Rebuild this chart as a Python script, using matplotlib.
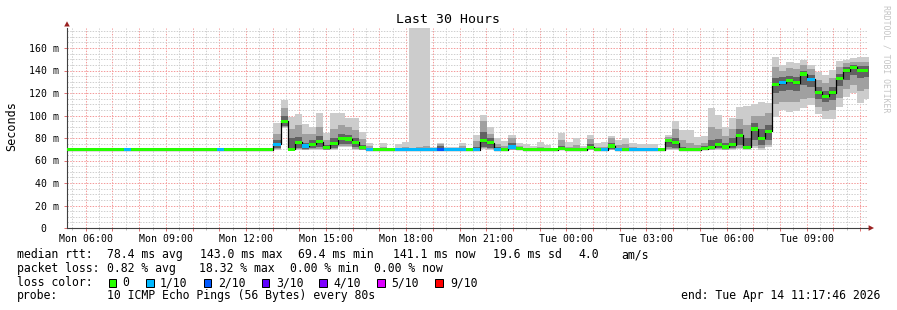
import numpy as np
import matplotlib
matplotlib.use("Agg")
import matplotlib.pyplot as plt
from matplotlib.patches import Rectangle, Polygon

W, H = 897, 310
plt.rcParams['font.family'] = ['DejaVu Sans Mono']

# ---------------- data ----------------
start_h = 5 + 17 / 60 + 46 / 3600      # Mon 05:17:46 (hours since Mon 00:00)
span_h = 30
bin_minutes = 16

median = [
    69.5, 69.5, 69.5, 69.5, 69.5, 69.5, 69.5, 69.5, 69.5, 69.5,
    69.5, 69.5, 69.5, 69.5, 69.5, 69.5, 69.5, 69.5, 69.5, 69.5,
    69.5, 69.5, 69.5, 69.5, 69.5, 69.5, 69.5, 69.5, 69.5, 74.5,
    95, 70, 76.4, 72.9, 74.4, 76.7, 71.4, 74.7, 79.7, 79.1,
    76.4, 71.4, 69.5, 69.5, 69.5, 69.5, 69.5, 69.5, 69.5, 69.5,
    69.5, 69.5, 69.5, 69.5, 69.5, 69.5, 69.5, 69.5, 77.5, 75.8,
    69.5, 69.5, 72, 70.5, 69.5, 69.5, 69.5, 69.5, 69.5, 70.4,
    69.5, 69.5, 69.5, 71.7, 69.5, 69.5, 72.9, 69.5, 69.5, 69.5,
    69.5, 69.5, 69.5, 69.5, 77.6, 75.8, 69.5, 69.5, 69.5, 70.5,
    71.7, 73.8, 72, 73.8, 82.4, 71.7, 88, 79.7, 86.2, 127.7,
    129.2, 130.7, 129.2, 136.9, 132.2, 120.6, 117.3, 120.3, 133.3, 139.6,
    142.8, 140.4, 140.4,
]

loss = [
    0, 0, 0, 0, 0, 0, 0, 0, 1, 0,
    0, 0, 0, 0, 0, 0, 0, 0, 0, 0,
    0, 1, 0, 0, 0, 0, 0, 0, 0, 1,
    0, 0, 0, 1, 0, 0, 0, 0, 0, 0,
    0, 0, 1, 0, 0, 0, 1, 1, 1, 1,
    1, 1, 2, 1, 1, 1, 0, 1, 0, 0,
    1, 0, 1, 0, 0, 0, 0, 0, 0, 0,
    0, 0, 0, 0, 0, 1, 0, 1, 0, 1,
    1, 1, 1, 0, 0, 0, 0, 0, 0, 0,
    0, 0, 0, 0, 0, 0, 0, 0, 0, 0,
    1, 0, 0, 0, 1, 0, 0, 0, 0, 0,
    0, 0, 0,
]

ping_min = [
    69.5, 69.5, 69.5, 69.5, 69.5, 69.5, 69.5, 69.5, 69.5, 69.5,
    69.5, 69.5, 69.5, 69.5, 69.5, 69.5, 69.5, 69.5, 69.5, 69.5,
    69.5, 69.5, 69.5, 69.5, 69.5, 69.5, 69.5, 69.5, 69.5, 69.5,
    89, 69.5, 69.5, 69.5, 69.5, 69.5, 69.5, 69.5, 72, 72,
    69.5, 69.5, 69.5, 69.5, 69.5, 69.5, 69.5, 69.5, 69.5, 69.5,
    69.5, 69.5, 69.5, 69.5, 69.5, 69.5, 69.5, 69.5, 70, 69.5,
    69.5, 69.5, 69.5, 69.5, 69.5, 69.5, 69.5, 69.5, 69.5, 69.5,
    69.5, 69.5, 69.5, 69.5, 69.5, 69.5, 69.5, 69.5, 69.5, 69.5,
    69.5, 69.5, 69.5, 69.5, 69.5, 69.5, 69.5, 69.5, 69.5, 69.5,
    69.5, 69.5, 69.5, 69.5, 70, 69.5, 71, 69.5, 72, 99,
    104.9, 103.4, 104, 106.4, 109.3, 101.3, 96.6, 96.6, 107.9, 116.7,
    119.7, 110.8, 115,
]

band_lo = [
    69.5, 69.5, 69.5, 69.5, 69.5, 69.5, 69.5, 69.5, 69.5, 69.5,
    69.5, 69.5, 69.5, 69.5, 69.5, 69.5, 69.5, 69.5, 69.5, 69.5,
    69.5, 69.5, 69.5, 69.5, 69.5, 69.5, 69.5, 69.5, 69.5, 70,
    90, 69.5, 70, 69.5, 70, 70, 69.5, 70, 73, 73,
    70, 69.5, 69.5, 69.5, 69.5, 69.5, 69.5, 69.5, 69.5, 69.5,
    69.5, 69.5, 69.5, 69.5, 69.5, 69.5, 69.5, 69.5, 71, 70,
    69.5, 69.5, 69.5, 69.5, 69.5, 69.5, 69.5, 69.5, 69.5, 69.5,
    69.5, 69.5, 69.5, 69.5, 69.5, 69.5, 69.5, 69.5, 69.5, 69.5,
    69.5, 69.5, 69.5, 69.5, 70, 70, 69.5, 69.5, 69.5, 69.5,
    69.5, 70, 69.5, 70, 71, 70, 73, 71, 74, 110,
    112, 112, 112, 115, 116, 108, 104, 105, 116, 124,
    127, 122, 124,
]

core_lo = [
    69.5, 69.5, 69.5, 69.5, 69.5, 69.5, 69.5, 69.5, 69.5, 69.5,
    69.5, 69.5, 69.5, 69.5, 69.5, 69.5, 69.5, 69.5, 69.5, 69.5,
    69.5, 69.5, 69.5, 69.5, 69.5, 69.5, 69.5, 69.5, 69.5, 71,
    91, 70, 71, 70, 71, 72, 70, 71, 75, 75,
    72, 70, 69.5, 69.5, 69.5, 69.5, 69.5, 69.5, 69.5, 69.5,
    69.5, 69.5, 69.5, 69.5, 69.5, 69.5, 69.5, 69.5, 72, 71,
    69.5, 69.5, 70, 69.5, 69.5, 69.5, 69.5, 69.5, 69.5, 69.5,
    69.5, 69.5, 69.5, 70, 69.5, 69.5, 70, 69.5, 69.5, 69.5,
    69.5, 69.5, 69.5, 69.5, 72, 71, 69.5, 69.5, 69.5, 70,
    70, 71, 70, 71, 74, 71, 78, 74, 78, 120,
    122, 123, 122, 127, 125, 115, 112, 114, 126, 132,
    136, 133, 134,
]

core_hi = [
    69.5, 69.5, 69.5, 69.5, 69.5, 69.5, 69.5, 69.5, 69.5, 69.5,
    69.5, 69.5, 69.5, 69.5, 69.5, 69.5, 69.5, 69.5, 69.5, 69.5,
    69.5, 69.5, 69.5, 69.5, 69.5, 69.5, 69.5, 69.5, 69.5, 78,
    100, 80, 81, 76, 78, 82, 74, 80, 84, 83,
    80, 74, 71, 69.5, 70, 69.5, 70, 70, 70, 70.5,
    71, 70, 73, 70, 70, 71, 69.5, 72, 85, 80,
    72, 70.5, 76, 72, 70, 70, 70, 70, 69.5, 73,
    70, 71, 70, 75, 70, 70, 76, 71, 71, 70,
    70, 70, 70, 69.5, 79, 80, 72, 71, 71, 73,
    78, 79, 76, 80, 88, 80, 93, 88, 92, 133,
    134, 135, 134, 140, 136, 125, 122, 125, 137, 143,
    145, 144, 144,
]

band_hi = [
    69.5, 69.5, 69.5, 69.5, 69.5, 69.5, 69.5, 69.5, 69.5, 69.5,
    69.5, 69.5, 69.5, 69.5, 69.5, 69.5, 69.5, 69.5, 69.5, 69.5,
    69.5, 69.5, 69.5, 69.5, 69.5, 69.5, 69.5, 69.5, 69.5, 84,
    107, 88, 92, 84, 84, 90, 78, 88, 92, 90,
    87, 79, 73, 69.5, 72, 70, 71, 72, 71, 72,
    73, 70.5, 75, 70.5, 71, 73, 70, 77, 95, 84,
    75, 73, 80, 73, 71, 71, 72, 71, 70, 78,
    72, 74, 71, 79, 72, 72, 80, 74, 75, 72,
    71, 71, 71, 70, 81, 88, 78, 76, 74, 76,
    90, 88, 82, 88, 97, 92, 100, 100, 102, 143,
    140, 142, 141, 145, 141, 132, 129, 133, 143, 147,
    148, 148, 148,
]

ping_max = [
    69.5, 69.5, 69.5, 69.5, 69.5, 69.5, 69.5, 69.5, 69.5, 69.5,
    69.5, 69.5, 69.5, 69.5, 69.5, 69.5, 69.5, 69.5, 69.5, 69.5,
    69.5, 69.5, 69.5, 69.5, 69.5, 69.5, 69.5, 69.5, 69.5, 93.5,
    114, 99, 101, 92.4, 90, 102.5, 84.7, 102.5, 102, 97.6,
    97.6, 85.6, 75.5, 69.5, 75.8, 70.5, 74.7, 76.7, 185, 185,
    185, 72.3, 75.8, 72.3, 72.3, 75.8, 71, 82.7, 100.4, 89.5,
    79.7, 77.6, 83, 75.3, 74.4, 72.9, 76.1, 73.9, 71, 84.1,
    76.7, 80.3, 73.2, 82.7, 75.3, 76.7, 81.8, 78.2, 79.7, 75.3,
    74.7, 74.7, 74.7, 71, 83, 95.4, 87.1, 87.1, 81, 81.8,
    106.4, 100.4, 90, 97.5, 107.9, 108.4, 110.2, 112.3, 110.8, 151.7,
    145, 147.8, 147, 149.3, 145, 139, 136, 140.4, 148.4, 149.3,
    150.8, 151.7, 152,
]

tick_hours = [6, 9, 12, 15, 18, 21, 24, 27, 30, 33]
tick_labels = ["Mon 06:00", "Mon 09:00", "Mon 12:00", "Mon 15:00", "Mon 18:00",
               "Mon 21:00", "Tue 00:00", "Tue 03:00", "Tue 06:00", "Tue 09:00"]
y_ticks = [0, 20, 40, 60, 80, 100, 120, 140, 160]
y_labels = ["0  ", "20 m", "40 m", "60 m", "80 m", "100 m", "120 m", "140 m", "160 m"]

loss_levels = [0, 1, 2, 3, 4, 5, 9]
loss_names = ["0", "1/10", "2/10", "3/10", "4/10", "5/10", "9/10"]
loss_colors = ["#26ff00", "#00b8ff", "#0059ff", "#5e00ff", "#7e00ff", "#dd00ff", "#ff0000"]

title = "Last 30 Hours"
rtt_stats = ["median rtt:", "78.4 ms avg", "143.0 ms max", "69.4 ms min",
             "141.1 ms now", "19.6 ms sd", "4.0", "am/s"]
loss_stats = ["packet loss:", "0.82 % avg", "18.32 % max", "0.00 % min", "0.00 % now"]
probe_text = ["probe:", "10 ICMP Echo Pings (56 Bytes) every 80s"]
end_text = "end: Tue Apr 14 11:17:46 2026"

# ---------------- figure ----------------
fig = plt.figure(figsize=(W / 100, H / 100), dpi=100)
fig.patch.set_facecolor("white")


def fx(x):
    return x / W


def fy(y):
    return 1 - y / H


ymax = 178.0
ax = fig.add_axes([fx(67), fy(228), 801 / W, (ymax * 1.125) / H])
ax.set_xlim(start_h, start_h + span_h)
ax.set_ylim(0, ymax)
ax.set_facecolor("white")

n = len(median)
edges = start_h + np.arange(n + 1) * bin_minutes / 60.0


def ext(a):
    a = np.asarray(a, dtype=float)
    return np.append(a, a[-1])


ax.fill_between(edges, ext(ping_min), ext(ping_max), step='post', color='#cccccc', lw=0, zorder=2)
ax.fill_between(edges, ext(band_lo), ext(band_hi), step='post', color='#a0a0a0', lw=0, zorder=3)
ax.fill_between(edges, ext(core_lo), ext(core_hi), step='post', color='#626262', lw=0, zorder=4)
ax.step(edges, ext(median), where='post', color='black', lw=0.9, zorder=5)

cmap = dict(zip(loss_levels, loss_colors))
bar_colors = [cmap[l] for l in loss]
ax.bar(edges[:-1], 2.7, bottom=np.asarray(median) - 1.35, width=bin_minutes / 60.0,
       align='edge', color=bar_colors, lw=0, zorder=6)

# grid
major_x = np.arange(6, 36)
minor_x = np.arange(5.5, 35.5, 1.0)
ax.set_xticks(major_x)
ax.set_xticklabels([tick_labels[tick_hours.index(h)] if h in tick_hours else "" for h in major_x])
ax.set_xticks(minor_x, minor=True)
ax.set_yticks(y_ticks)
ax.set_yticklabels(y_labels)
ax.set_yticks(np.arange(5, 178, 5), minor=True)
ax.set_axisbelow(True)
ax.grid(True, which='minor', color='#cfcfcf', linestyle=(0, (1.4, 1.4)), linewidth=0.72)
ax.grid(True, which='major', color='#f49a9a', linestyle=(0, (1.4, 1.4)), linewidth=0.72)

ax.tick_params(axis='x', which='major', length=2, width=0.7, color='#e07070', pad=2.5,
               labelsize=7.1, labelcolor='black')
ax.tick_params(axis='x', which='minor', length=1.5, width=0.7, color='#bbbbbb')
ax.tick_params(axis='y', which='major', length=2, width=0.7, color='#e07070', pad=3.6,
               labelsize=7.1, labelcolor='black')
ax.tick_params(axis='y', which='minor', length=0)

for s in ['top', 'right']:
    ax.spines[s].set_visible(False)
for s in ['left', 'bottom']:
    ax.spines[s].set_color('#404040')
    ax.spines[s].set_linewidth(0.8)

# arrows
arrow_col = '#9b2222'
fig.add_artist(Polygon([(fx(67), fy(21.3)), (fx(64.2), fy(26.5)), (fx(69.8), fy(26.5))],
                       closed=True, transform=fig.transFigure, color=arrow_col, lw=0))
fig.add_artist(Polygon([(fx(874), fy(228)), (fx(868.6), fy(225.2)), (fx(868.6), fy(230.8))],
                       closed=True, transform=fig.transFigure, color=arrow_col, lw=0))

# texts
fig.text(fx(448), fy(19.5), title, ha='center', va='center', fontsize=9.5)
fig.text(fx(11.5), fy(126), "Seconds", rotation=90, ha='center', va='center', fontsize=8.5)
fig.text(fx(886), fy(59), "RRDTOOL / TOBI OETIKER", rotation=270, ha='center', va='center',
         fontsize=5.9, color='#c4c4c4')

LFS = 8.3
rtt_x = [16.7, 107.3, 200, 298, 393.3, 493.3, 578.3, 621]
for x, t in zip(rtt_x, rtt_stats):
    fig.text(fx(x), fy(258), t, ha='left', va='baseline', fontsize=LFS)
loss_x = [16.7, 107.3, 199.3, 290, 373.5]
for x, t in zip(loss_x, loss_stats):
    fig.text(fx(x), fy(272), t, ha='left', va='baseline', fontsize=LFS)

fig.text(fx(16.7), fy(286), "loss color:", ha='left', va='baseline', fontsize=LFS)
sq_x = [108.5, 146.3, 203.5, 261.8, 319.3, 377, 435.3]
lab_x = [122.5, 159.5, 218, 276, 333.3, 391.5, 450]
for sx, lx, name, col in zip(sq_x, lab_x, loss_names, loss_colors):
    fig.add_artist(Rectangle((fx(sx), fy(286.5)), 7.5 / W, 8 / H, transform=fig.transFigure,
                             facecolor=col, edgecolor='black', lw=0.72))
    fig.text(fx(lx), fy(286), name, ha='left', va='baseline', fontsize=LFS)

fig.text(fx(16.7), fy(299.5), probe_text[0], ha='left', va='baseline', fontsize=LFS)
fig.text(fx(107.3), fy(299.5), probe_text[1], ha='left', va='baseline', fontsize=LFS)
fig.text(fx(880), fy(299.5), end_text, ha='right', va='baseline', fontsize=LFS)

fig.savefig("out.png", dpi=100, facecolor='white')
